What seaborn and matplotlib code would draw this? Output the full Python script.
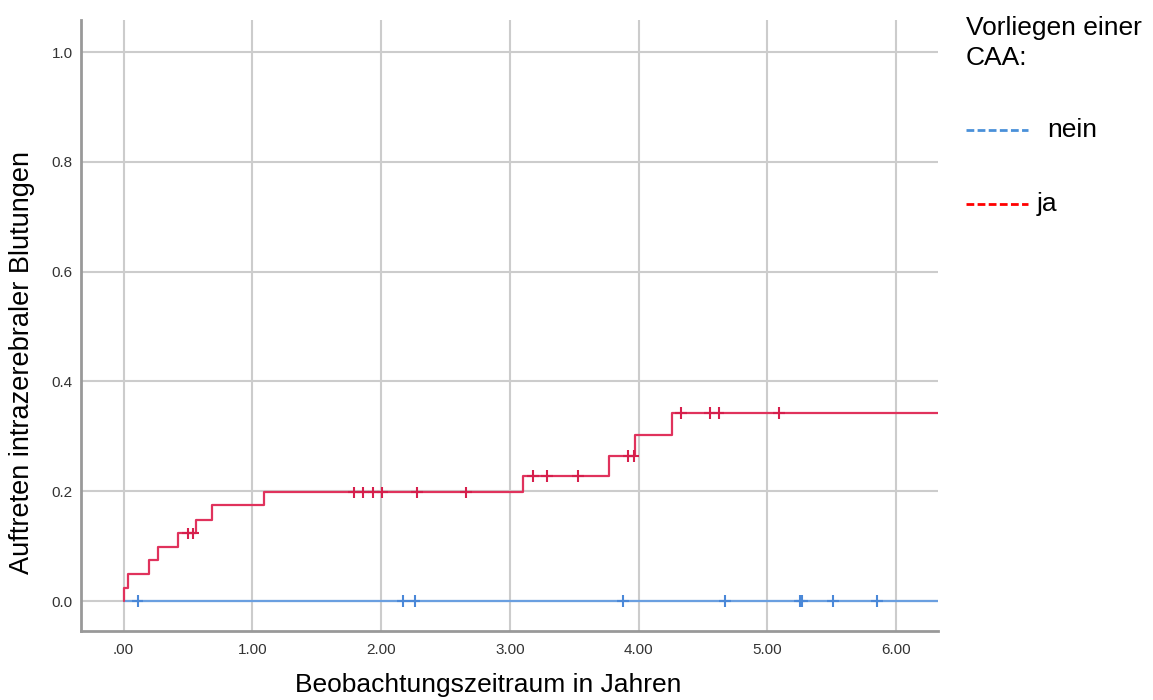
import numpy as np
import pandas as pd
import matplotlib
matplotlib.use("Agg")
import matplotlib.pyplot as plt
from matplotlib.lines import Line2D
import seaborn as sns

# Stufen der Kurven (Zeit in Jahren, kumulativer Anteil)
ja_times = [0.00, 0.00, 0.036, 0.20, 0.27, 0.42, 0.56, 0.69, 1.09, 3.10, 3.77, 3.97, 4.26, 6.50]
ja_values = [0.000, 0.024, 0.050, 0.075, 0.099, 0.123, 0.148, 0.174, 0.198, 0.228, 0.264, 0.302, 0.342, 0.342]
ja_censored = [0.50, 0.54, 1.79, 1.86, 1.94, 2.01, 2.28, 2.66, 3.18, 3.29, 3.53, 3.92, 3.96,
               4.33, 4.55, 4.62, 5.09]

nein_times = [0.00, 6.50]
nein_values = [0.0, 0.0]
nein_censored = [0.11, 2.17, 2.26, 3.88, 4.67, 5.25, 5.27, 5.51, 5.85]

groups = ["nein", "ja"]
x_ticks = [0, 1, 2, 3, 4, 5, 6]
x_tick_labels = [".00", "1.00", "2.00", "3.00", "4.00", "5.00", "6.00"]
y_ticks = [0.0, 0.2, 0.4, 0.6, 0.8, 1.0]
y_tick_labels = ["0.0", "0.2", "0.4", "0.6", "0.8", "1.0"]

line_colors = {"nein": "#6a9fe0", "ja": "#e0325c"}
mark_colors = {"nein": "#4a88d8", "ja": "#d61f4c"}


def step_value(times, values, t):
    i = np.searchsorted(times, t, side="right") - 1
    return values[i]


curves = pd.concat([
    pd.DataFrame({"t": nein_times, "v": nein_values, "CAA": "nein"}),
    pd.DataFrame({"t": ja_times, "v": ja_values, "CAA": "ja"}),
], ignore_index=True)

cens = pd.concat([
    pd.DataFrame({"t": nein_censored,
                  "v": [step_value(nein_times, nein_values, t) for t in nein_censored],
                  "CAA": "nein"}),
    pd.DataFrame({"t": ja_censored,
                  "v": [step_value(ja_times, ja_values, t) for t in ja_censored],
                  "CAA": "ja"}),
], ignore_index=True)

sns.set_style("white")
plt.rcParams["font.family"] = ["Liberation Sans", "DejaVu Sans"]
plt.rcParams["text.color"] = "black"

fig = plt.figure(figsize=(11.53, 7), dpi=100)
ax = fig.add_axes([81 / 1153, 69 / 700, 857 / 1153, 611 / 700])

sns.lineplot(data=curves, x="t", y="v", hue="CAA", palette=line_colors,
             estimator=None, sort=False, drawstyle="steps-post",
             linewidth=1.6, legend=False, ax=ax, zorder=3)
sns.scatterplot(data=cens, x="t", y="v", hue="CAA", palette=mark_colors,
                marker="+", s=70, linewidth=1.5, legend=False, ax=ax, zorder=4)

ax.set_xlim(-0.33, 6.324)
ax.set_ylim(-0.0546, 1.0583)
ax.set_xticks(x_ticks)
ax.set_xticklabels(x_tick_labels)
ax.set_yticks(y_ticks)
ax.set_yticklabels(y_tick_labels)
ax.tick_params(axis="both", length=0, labelsize=11, labelcolor="#333333")
ax.tick_params(axis="x", pad=9)
ax.tick_params(axis="y", pad=6)
ax.grid(True, color="#cccccc", linewidth=1.5)
ax.set_axisbelow(True)
ax.set_xlabel("")
ax.set_ylabel("")
for side in ["top", "right"]:
    ax.spines[side].set_visible(False)
for side in ["left", "bottom"]:
    ax.spines[side].set_color("#999999")
    ax.spines[side].set_linewidth(2)

fig.text(488 / 1153, 1 - 692 / 700, "Beobachtungszeitraum in Jahren",
         ha="center", va="baseline", fontsize=19, color="black")
fig.text(22 / 1153, 1 - 363 / 700, "Auftreten intrazerebraler Blutungen",
         ha="center", va="center", rotation=90, fontsize=19.5, color="black")

# Legende als Text und gestrichelte Linien
fig.text(966 / 1153, 1 - 35 / 700, "Vorliegen einer", ha="left", va="baseline",
         fontsize=19, color="black")
fig.text(966 / 1153, 1 - 65 / 700, "CAA:", ha="left", va="baseline", fontsize=19, color="black")
legend_rows = [("nein", "#4a90d9", 130, 1047), ("ja", "#ff0000", 204, 1037)]
for label, color, y, tx in legend_rows:
    yf = 1 - y / 700
    fig.add_artist(Line2D([966 / 1153, 1028 / 1153], [yf, yf], color=color,
                          linewidth=2, linestyle=(0, (2.8, 1.2))))
    fig.text(tx / 1153, 1 - (y + 7) / 700, label, ha="left", va="baseline",
             fontsize=19, color="black")

fig.savefig("out.png", dpi=100)
